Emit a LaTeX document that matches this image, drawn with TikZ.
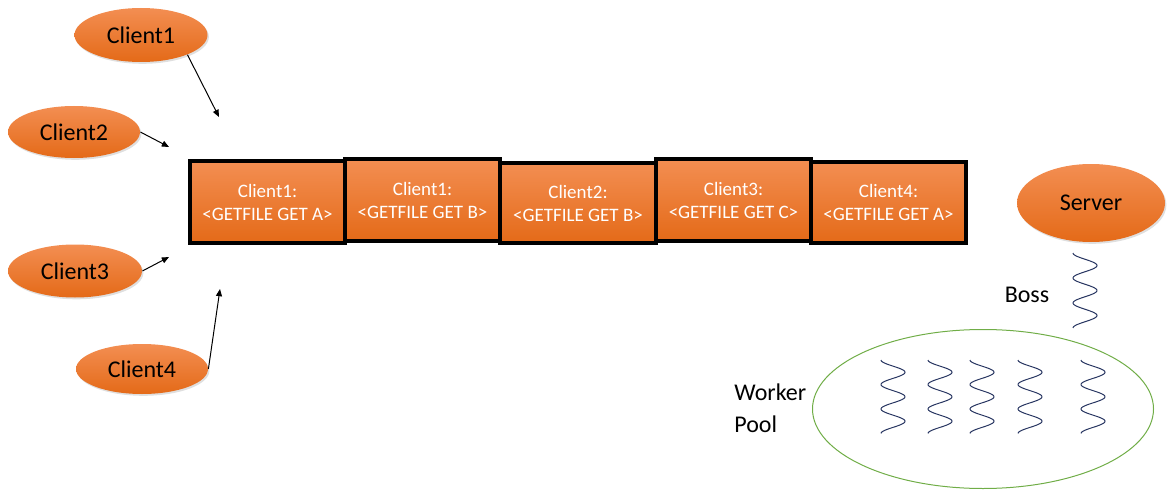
\documentclass[tikz,border=0pt]{standalone}
\usepackage{fontspec}
\setmainfont{Carlito}
\usetikzlibrary{shapes.geometric,arrows.meta,shadows}
\definecolor{orTop}{RGB}{243,142,82}
\definecolor{orBot}{RGB}{228,106,24}
\definecolor{poolgreen}{RGB}{112,173,71}
\definecolor{springblue}{RGB}{38,52,96}
\tikzset{
  client/.style={ellipse, draw=none, inner sep=0pt, top color=orTop, bottom color=orBot,
    drop shadow={shadow xshift=0.7pt, shadow yshift=-0.9pt, opacity=0.25},
    font=\fontsize{12}{14}\selectfont, text=black},
  qbox/.style={rectangle, draw=black, line width=2pt, inner sep=0pt, top color=orTop, bottom color=orBot,
    drop shadow={shadow xshift=0.8pt, shadow yshift=-0.9pt, opacity=0.3},
    align=center, text=white, font=\fontsize{9.5}{11.5}\selectfont},
  req/.style={black, line width=0.5pt, -{Triangle[length=3.6pt,width=3pt]}},
  spring/.style={springblue, line width=0.5pt},
  lbl/.style={font=\fontsize{12}{16}\selectfont, text=black, inner sep=0pt}
}
\begin{document}
\begin{tikzpicture}[x=0.5pt,y=-0.5pt]
\useasboundingbox (0,0) rectangle (1172,492);
% clients
\node[client, minimum width=66.5pt, minimum height=27pt] (c1) at (141,35) {Client1};
\node[client, minimum width=66pt, minimum height=26pt] (c2) at (74,132) {Client2};
\node[client, minimum width=67pt, minimum height=26.5pt] (c3) at (75,271) {Client3};
\node[client, minimum width=66pt, minimum height=25pt] (c4) at (142,369) {Client4};
\node[client, minimum width=74pt, minimum height=39pt] (srv) at (1091,203) {Server};
% arrow ends
\coordinate (a1) at (219,117);
\coordinate (a2) at (169,147);
\coordinate (a3) at (169,257);
\coordinate (a4) at (220,289);
\draw[req] (c1.-23) -- (a1);
\draw[req] (c2.east) -- (a2);
\draw[req] (c3.east) -- (a3);
\draw[req] (c4.east) -- (a4);
% queue
\node[qbox, minimum width=77.5pt, minimum height=41pt] (q1) at (267.5,202) {Client1:\\<GETFILE GET A>};
\node[qbox, minimum width=77.5pt, minimum height=41pt] (q2) at (422.5,200) {Client1:\\<GETFILE GET B>};
\node[qbox, minimum width=78pt, minimum height=40pt] (q3) at (578,203) {Client2:\\<GETFILE GET B>};
\node[qbox, minimum width=77.5pt, minimum height=41pt] (q4) at (733.5,200) {Client3:\\<GETFILE GET C>};
\node[qbox, minimum width=77.5pt, minimum height=40.5pt] (q5) at (888.5,202.5) {Client4:\\<GETFILE GET A>};
% boss
\draw[spring] plot[domain=0:3, samples=90, smooth] ({1085-12*cos(360*\x)}, {253+25*\x});
\node[lbl] (boss) at (1027,295) {Boss};
% worker pool
\node[ellipse, draw=poolgreen, line width=0.5pt, minimum width=170.5pt, minimum height=79.5pt, inner sep=0pt] (pool) at (983,409) {};
\foreach \cx in {893,940,982,1030,1093}{
  \draw[spring] plot[domain=0:3, samples=90, smooth] ({\cx-12*cos(360*\x)}, {360+24.5*\x});
}
\node[lbl, align=left, anchor=west] (wp) at (734,408) {Worker\\Pool};
\end{tikzpicture}
\end{document}
